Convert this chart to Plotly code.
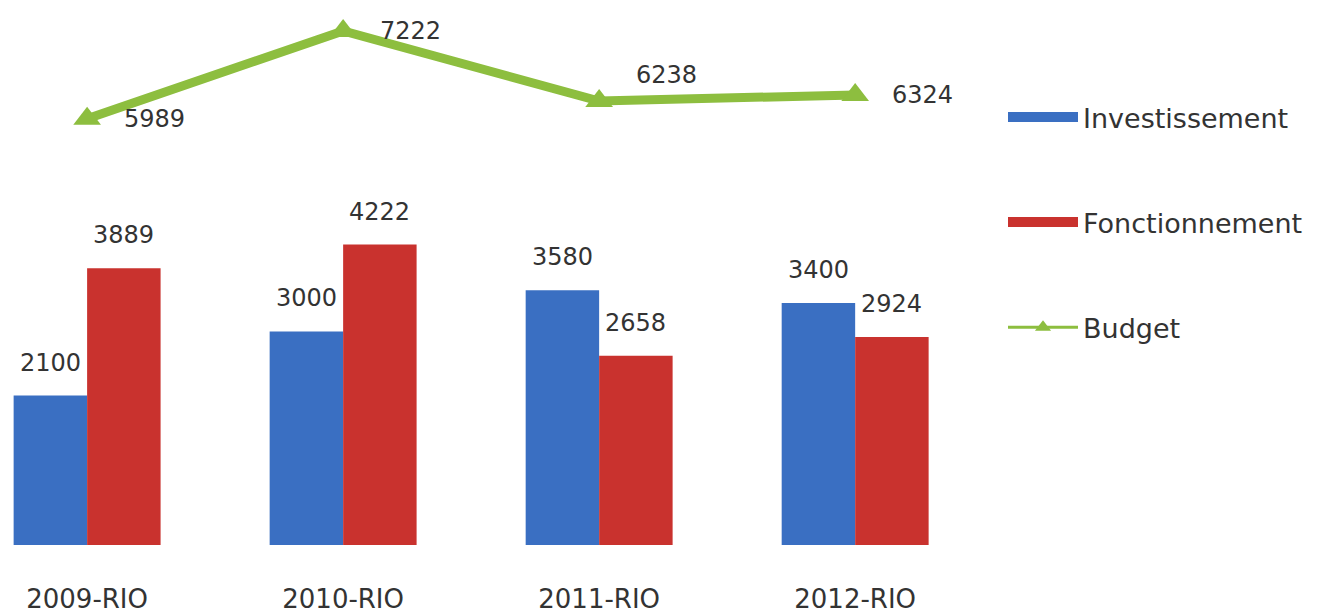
import plotly.graph_objects as go

categories = ["2009-RIO", "2010-RIO", "2011-RIO", "2012-RIO"]
investissement = [2100, 3000, 3580, 3400]
fonctionnement = [3889, 4222, 2658, 2924]
budget = [5989, 7222, 6238, 6324]

BLUE = "#3A6FC2"
RED = "#C9322E"
GREEN = "#8DBE3F"
TXT = "#333333"

W, H = 1330, 616
ML, MR, MT, MB = 0, 330, 2, 79
XR = [-0.309, 3.597]
YR = [0, 7517]
BARGAP = 0.426

plot_w = W - ML - MR
plot_h = H - MT - MB
px_per_cat = plot_w / (XR[1] - XR[0])
bar_px = (1 - BARGAP) / 2 * px_per_cat

fig = go.Figure()
fig.add_trace(go.Bar(x=categories, y=investissement, name="Investissement",
                     marker=dict(color=BLUE, line=dict(width=0)), showlegend=False))
fig.add_trace(go.Bar(x=categories, y=fonctionnement, name="Fonctionnement",
                     marker=dict(color=RED, line=dict(width=0)), showlegend=False))
fig.add_trace(go.Scatter(x=categories, y=budget, name="Budget", mode="lines+markers",
                         line=dict(color=GREEN, width=9),
                         marker=dict(symbol="triangle-up", size=24, color=GREEN),
                         cliponaxis=False, showlegend=False))

# legend entries
fig.add_trace(go.Scatter(x=[None], y=[None], mode="lines", name="Investissement",
                         line=dict(color=BLUE, width=19), legendgroup="a"))
fig.add_trace(go.Scatter(x=[None], y=[None], mode="lines", name="Fonctionnement",
                         line=dict(color=RED, width=19), legendgroup="b"))
fig.add_trace(go.Scatter(x=[None], y=[None], mode="lines+markers", name="Budget",
                         line=dict(color=GREEN, width=3),
                         marker=dict(symbol="triangle-up", size=14, color=GREEN),
                         legendgroup="c"))

lab_font = dict(family="DejaVu Sans", size=24, color=TXT)
ann = []
for c, v in zip(categories, investissement):
    ann.append(dict(x=c, y=v, xref="x", yref="y", text=str(v), showarrow=False,
                    xshift=-bar_px / 2, yshift=33, yanchor="middle", font=lab_font))
for c, v in zip(categories, fonctionnement):
    ann.append(dict(x=c, y=v, xref="x", yref="y", text=str(v), showarrow=False,
                    xshift=bar_px / 2, yshift=33, yanchor="middle", font=lab_font))
budget_label_lift = {2: 26}
for i, (c, v) in enumerate(zip(categories, budget)):
    ann.append(dict(x=c, y=v, xref="x", yref="y", text=str(v), showarrow=False,
                    xanchor="left", xshift=35, yshift=budget_label_lift.get(i, 0),
                    yanchor="middle", font=lab_font))

fig.update_layout(
    width=W, height=H,
    margin=dict(l=ML, r=MR, t=MT, b=MB, autoexpand=False),
    paper_bgcolor="white", plot_bgcolor="white",
    barmode="group", bargap=BARGAP, bargroupgap=0,
    annotations=ann,
    legend=dict(x=0.995, xanchor="left", y=0.845, yanchor="top",
                font=dict(family="DejaVu Sans", size=27, color=TXT),
                tracegroupgap=67, itemwidth=70, bgcolor="rgba(0,0,0,0)"),
    xaxis=dict(type="category", range=XR, showgrid=False, zeroline=False, showline=False,
               automargin=False,
               ticks="outside", ticklen=31, tickcolor="rgba(0,0,0,0)",
               tickfont=dict(family="DejaVu Sans", size=26, color=TXT), fixedrange=True),
    yaxis=dict(range=YR, visible=False, showgrid=False, zeroline=False, fixedrange=True,
               automargin=False),
    showlegend=True,
)

fig.write_html("out.html")
